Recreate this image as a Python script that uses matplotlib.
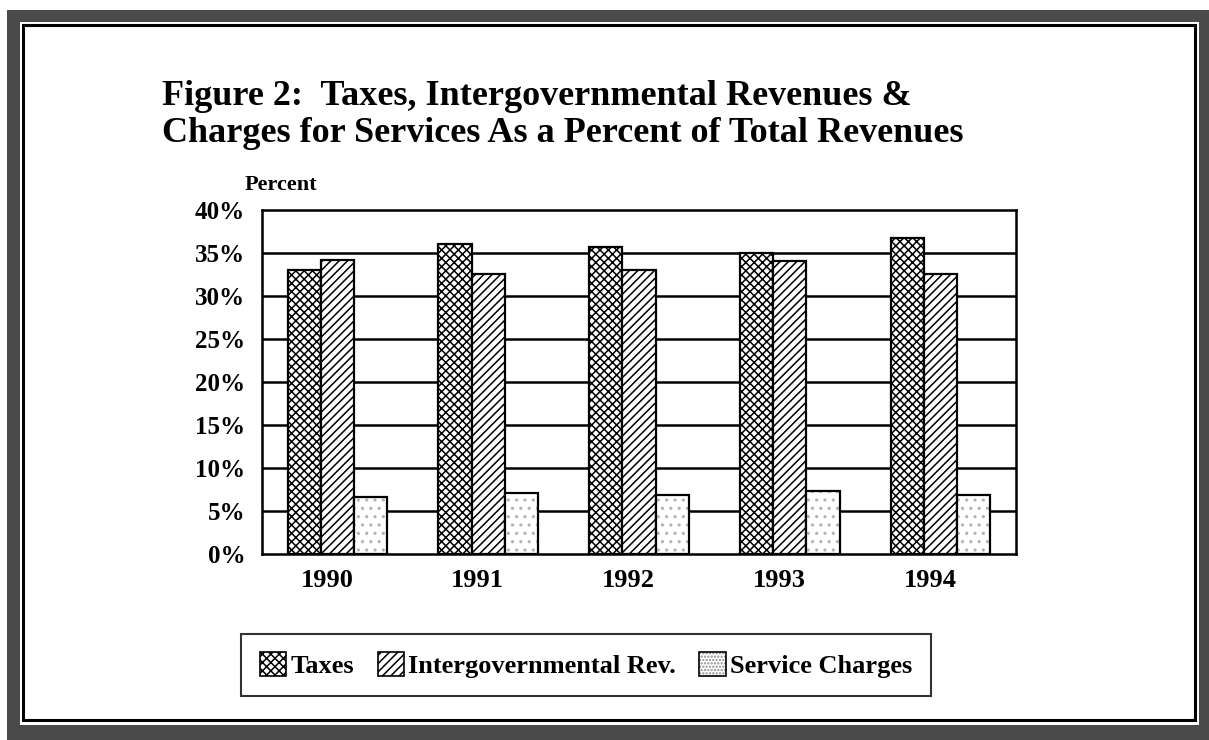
import numpy as np
import matplotlib
matplotlib.use("Agg")
import matplotlib.pyplot as plt
from matplotlib.patches import Rectangle, Patch

# data
years = ["1990", "1991", "1992", "1993", "1994"]
taxes = [33.0, 36.0, 35.7, 35.0, 36.7]
intergov = [34.2, 32.6, 33.0, 34.1, 32.6]
service = [6.6, 7.1, 6.9, 7.3, 6.9]
series_names = ["Taxes", "Intergovernmental Rev.", "Service Charges"]
y_ticks = [0, 5, 10, 15, 20, 25, 30, 35, 40]

plt.rcParams['font.family'] = ['Liberation Serif', 'DejaVu Serif']
plt.rcParams['font.weight'] = 'bold'
plt.rcParams['hatch.linewidth'] = 1.1

W, H = 1209, 740
fig = plt.figure(figsize=(W / 100, H / 100), dpi=100)


def px_rect(x0, y0, x1, y1, **kw):
    """Rectangle given in pixel coords (origin top-left)."""
    return Rectangle((x0 / W, 1 - y1 / H), (x1 - x0) / W, (y1 - y0) / H,
                     transform=fig.transFigure, **kw)


# outer frame: dark band, white inside, thin black rule
fig.add_artist(px_rect(7, 10, W, H, facecolor='#4a4a4a', edgecolor='none', zorder=0))
fig.add_artist(px_rect(20, 22, 1199, 725, facecolor='white', edgecolor='none', zorder=0))
fig.add_artist(px_rect(23, 25, 1195, 720, facecolor='none', edgecolor='black',
                       linewidth=2.2, zorder=1))

fig.text(162 / W, 1 - 80 / H,
         "Figure 2:  Taxes, Intergovernmental Revenues &\n"
         "Charges for Services As a Percent of Total Revenues",
         ha='left', va='top', fontsize=26, fontweight='bold', linespacing=1.15)

ax = fig.add_axes([262 / W, 1 - 554 / H, (1016 - 262) / W, (554 - 210) / H])

x = np.arange(len(years))
bw = 0.22
for yv in y_ticks[1:-1]:
    ax.axhline(yv, color='black', linewidth=1.8, zorder=1)

ax.bar(x - bw, taxes, bw, color='white', edgecolor='black', hatch='xxxx',
       linewidth=1.6, zorder=2)
ax.bar(x, intergov, bw, color='white', edgecolor='black', hatch='////',
       linewidth=1.6, zorder=2)
ax.bar(x + bw, service, bw, color='white', edgecolor='0.7', hatch='..',
       linewidth=0, zorder=2)
ax.bar(x + bw, service, bw, fill=False, edgecolor='black', linewidth=1.6, zorder=3)

ax.set_xlim(-0.5, len(years) - 0.5)
ax.set_ylim(0, 40)
ax.set_yticks(y_ticks)
ax.set_yticklabels([f"{v}%" for v in y_ticks])
ax.set_xticks(x - 0.07)
ax.set_xticklabels(years)
ax.tick_params(axis='both', length=0)
ax.tick_params(axis='y', pad=12, labelsize=18)
ax.tick_params(axis='x', pad=11, labelsize=19)
for s in ax.spines.values():
    s.set_linewidth(1.8)

fig.text(245 / W, 1 - 185 / H, "Percent", ha='left', va='center',
         fontsize=16, fontweight='bold')

handles = [
    Patch(facecolor='white', edgecolor='black', hatch='xxxx', linewidth=1.2),
    Patch(facecolor='white', edgecolor='black', hatch='////', linewidth=1.2),
    (Patch(facecolor='white', edgecolor='0.55', hatch='.....', linewidth=0),
     Patch(fill=False, edgecolor='black', linewidth=1.2)),
]
leg = fig.legend(handles, series_names, loc='center', ncol=3,
                 bbox_to_anchor=((232 + 940) / 2 / W, 1 - 665 / H),
                 fancybox=False, shadow=False, frameon=True,
                 prop={'size': 19, 'weight': 'bold'},
                 handlelength=1.0, handleheight=1.0, handletextpad=0.15,
                 columnspacing=0.9, borderpad=0.7)
leg.get_frame().set_edgecolor('black')
leg.get_frame().set_linewidth(1.5)

fig.savefig("out.png", dpi=100)
